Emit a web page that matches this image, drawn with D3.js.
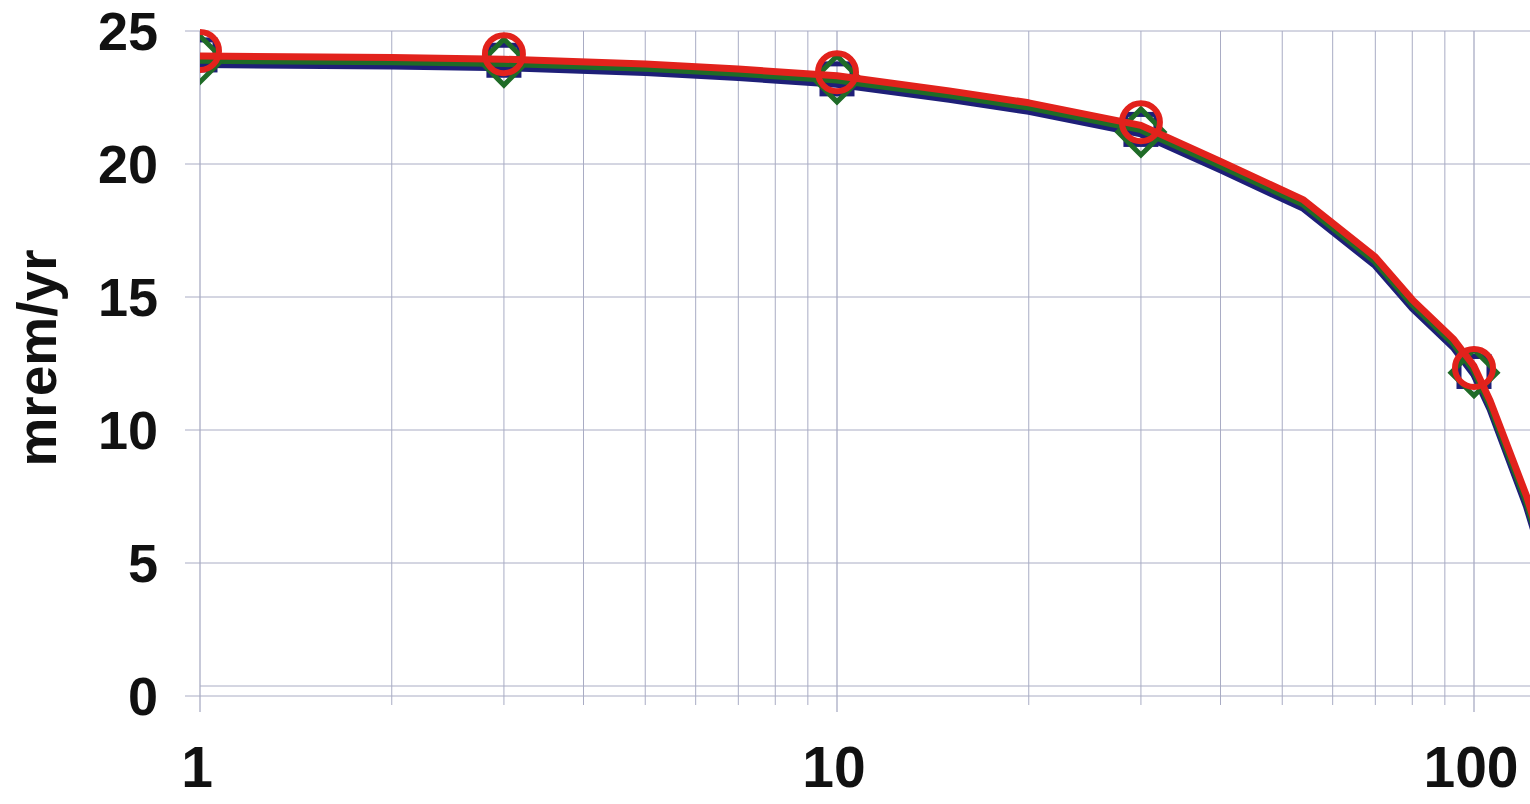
<!DOCTYPE html>
<html><head><meta charset="utf-8">
<script src="https://cdn.jsdelivr.net/npm/d3@7"></script>
<style>html,body{margin:0;padding:0;background:#fff;overflow:hidden}</style>
</head><body>
<svg id="c" width="1530" height="804"></svg>
<script>
// ---- data ----
const lineX = [1, 2, 3, 5, 7, 10, 15, 20, 30, 40, 54, 70, 80, 93, 100, 106, 121, 140];
const redLine   = [24.06, 24.0, 23.94, 23.76, 23.57, 23.32, 22.75, 22.3, 21.45, 20.1, 18.65, 16.5, 14.9, 13.4, 12.4, 11.1, 7.5, 2.5];
const greenLine = [23.9, 23.84, 23.78, 23.6, 23.41, 23.16, 22.59, 22.14, 21.29, 19.94, 18.49, 16.34, 14.74, 13.24, 12.24, 10.94, 7.3, 2.3];
const blueLine  = [23.74, 23.68, 23.62, 23.44, 23.25, 23.0, 22.43, 21.98, 21.13, 19.78, 18.33, 16.18, 14.58, 13.08, 12.08, 10.78, 7.1, 2.1];
const markerX = [1, 3, 10, 30, 100];
const redMarks   = [24.25, 24.13, 23.45, 21.57, 12.33];
const blueMarks  = [24.1, 23.9, 23.2, 21.3, 12.2];
const greenMarks = [23.95, 23.83, 23.2, 21.2, 12.15];
const yTicks = [0, 5, 10, 15, 20, 25];
const xMajorTicks = [1, 10, 100];
const xMinorTicks = [2, 3, 4, 5, 6, 7, 8, 9, 20, 30, 40, 50, 60, 70, 80, 90];
const yTitle = "mrem/yr";

// ---- layout ----
const svg = d3.select("#c");
const L = 200, R = 1530, T = 31, B = 696;
const decade = 637;
const x = d3.scaleLog().domain([1, 1000]).range([L, L + 3 * decade]);
const y = d3.scaleLinear().domain([0, 25]).range([B, T]);
const gridColor = "#a9acc4";
const font = "'Liberation Sans', Arial, Helvetica, sans-serif";

// gridlines
const g = svg.append("g");
g.selectAll(".hg").data(yTicks).join("line")
  .attr("x1", L - 15).attr("x2", R).attr("y1", d => y(d)).attr("y2", d => y(d))
  .attr("stroke", gridColor).attr("stroke-width", 1);
g.append("line").attr("x1", L).attr("x2", R).attr("y1", y(0) - 10).attr("y2", y(0) - 10)
  .attr("stroke", gridColor).attr("stroke-width", 1);
g.selectAll(".vg").data(xMinorTicks).join("line")
  .attr("x1", d => x(d)).attr("x2", d => x(d)).attr("y1", T).attr("y2", B + 9)
  .attr("stroke", gridColor).attr("stroke-width", 1);
g.selectAll(".vM").data(xMajorTicks).join("line")
  .attr("x1", d => x(d)).attr("x2", d => x(d)).attr("y1", T).attr("y2", B + 16)
  .attr("stroke", gridColor).attr("stroke-width", 1.3);

// tick labels
svg.append("g").selectAll("text").data(yTicks).join("text")
  .attr("x", 158).attr("y", d => y(d)).attr("dy", "0.36em")
  .attr("text-anchor", "end").attr("font-family", font).attr("font-weight", "bold")
  .attr("font-size", 54).attr("fill", "#111").text(d => d);
svg.append("g").selectAll("text").data(xMajorTicks).join("text")
  .attr("x", d => x(d) - 3).attr("y", 787)
  .attr("text-anchor", "middle").attr("font-family", font).attr("font-weight", "bold")
  .attr("font-size", 57).attr("fill", "#111").text(d => d);
svg.append("text")
  .attr("transform", "translate(56,358) rotate(-90)")
  .attr("text-anchor", "middle").attr("font-family", font).attr("font-weight", "bold")
  .attr("font-size", 55).attr("fill", "#111").text(yTitle);

// clip
svg.append("clipPath").attr("id", "plot").append("rect")
  .attr("x", L).attr("y", 0).attr("width", R - L).attr("height", B);
const plot = svg.append("g").attr("clip-path", "url(#plot)");

const line = d3.line().x(d => x(d[0])).y(d => y(d[1])).curve(d3.curveLinear);
const series = [
  {vals: blueLine, marks: blueMarks, color: "#1e1f78", shape: "square"},
  {vals: greenLine, marks: greenMarks, color: "#1f6b27", shape: "diamond"},
  {vals: redLine, marks: redMarks, color: "#e2221c", shape: "circle"}
];
series.forEach(s => {
  plot.append("path").datum(lineX.map((xv, i) => [xv, s.vals[i]]))
    .attr("d", line).attr("fill", "none").attr("stroke", s.color)
    .attr("stroke-width", 7).attr("stroke-linejoin", "round");
  const pts = markerX.map((xv, i) => [xv, s.marks[i]]);
  const mg = plot.append("g");
  if (s.shape === "square") {
    mg.selectAll("rect").data(pts).join("rect")
      .attr("x", d => x(d[0]) - 15).attr("y", d => y(d[1]) - 15)
      .attr("width", 30).attr("height", 30)
      .attr("fill", "none").attr("stroke", s.color).attr("stroke-width", 5);
  } else if (s.shape === "diamond") {
    mg.selectAll("path").data(pts).join("path")
      .attr("d", d => { const cx = x(d[0]), cy = y(d[1]), r = 23;
        return `M${cx},${cy - r}L${cx + r},${cy}L${cx},${cy + r}L${cx - r},${cy}Z`; })
      .attr("fill", "none").attr("stroke", s.color).attr("stroke-width", 5);
  } else {
    mg.selectAll("circle").data(pts).join("circle")
      .attr("cx", d => x(d[0])).attr("cy", d => y(d[1])).attr("r", 19)
      .attr("fill", "none").attr("stroke", s.color).attr("stroke-width", 6);
  }
});
</script>
</body></html>
